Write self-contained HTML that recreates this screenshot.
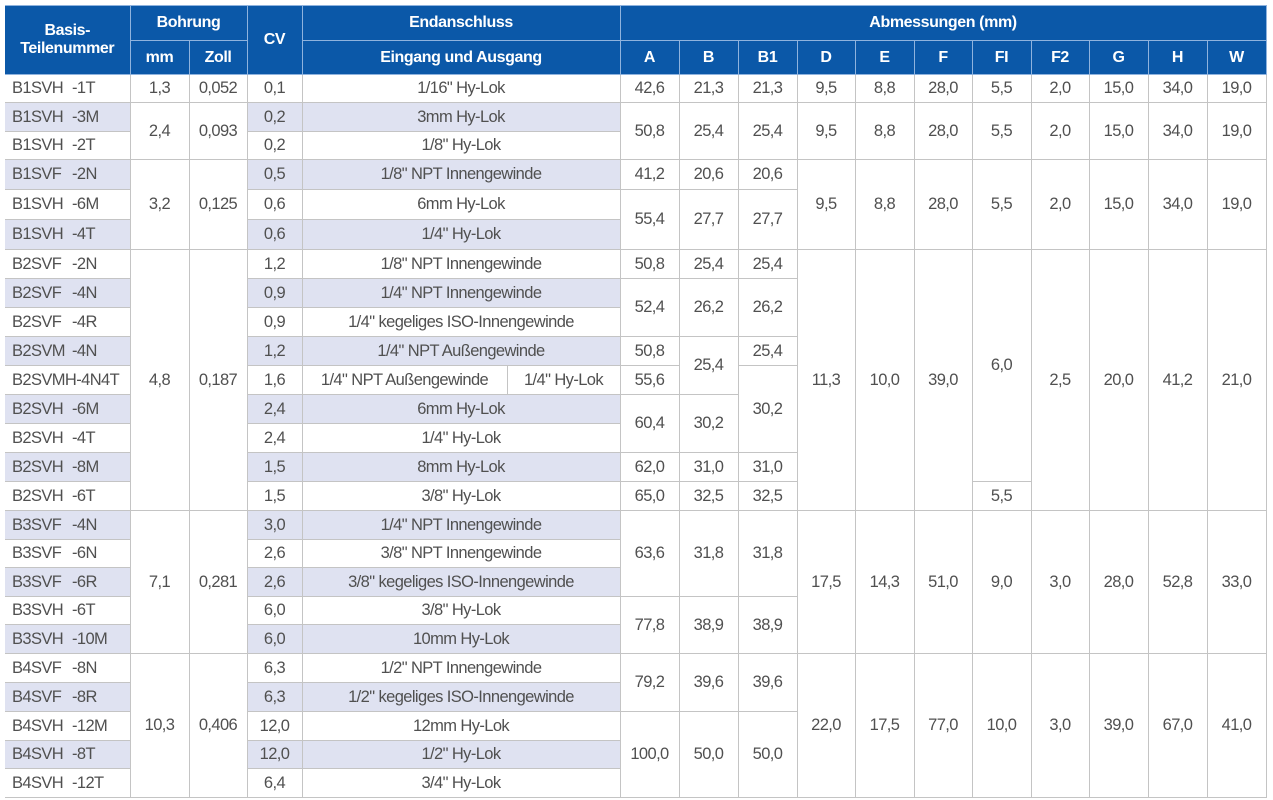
<!DOCTYPE html>
<html><head><meta charset="utf-8"><style>
html,body{margin:0;padding:0;background:#fff;width:1273px;height:800px;overflow:hidden}
table{position:absolute;left:5px;top:5px;border-collapse:collapse;table-layout:fixed;font-family:"Liberation Sans",sans-serif;}
td,th{padding:0;overflow:hidden;white-space:nowrap}
th{background:#0b58a8;color:#fff;font-weight:bold;font-size:16px;letter-spacing:-0.4px;border:1px solid #8fb3de;text-align:center}
td{font-size:16.5px;letter-spacing:-0.6px;color:#505050;text-align:center;border:1px solid #c4c4c4;}
td.sh{background:#dfe2f1}
td.pn{text-align:left;padding-left:7px;border-left:none}
.pn span{display:inline-block;width:60px}
tr.hd2 th{height:33px}
</style></head><body>
<table id="t">
<colgroup><col style="width:125px"><col style="width:59px"><col style="width:58px"><col style="width:55px"><col style="width:205px"><col style="width:113px"><col style="width:59px"><col style="width:59px"><col style="width:59px"><col style="width:58px"><col style="width:59px"><col style="width:58px"><col style="width:59px"><col style="width:58px"><col style="width:59px"><col style="width:59px"><col style="width:59px"></colgroup>
<thead>
<tr style="height:35px">
<th rowspan="2" style="border-left:none">Basis-<br>Teilenummer</th>
<th colspan="2">Bohrung</th>
<th rowspan="2">CV</th>
<th colspan="2">Endanschluss</th>
<th colspan="11">Abmessungen (mm)</th>
</tr>
<tr class="hd2">
<th>mm</th>
<th>Zoll</th>
<th colspan="2">Eingang und Ausgang</th>
<th>A</th><th>B</th><th>B1</th><th>D</th><th>E</th><th>F</th><th>FI</th><th>F2</th><th>G</th><th>H</th><th>W</th>
</tr>
</thead>
<tbody id="tb"></tbody>
</table>
<script>
const heights=[28,29,28,30,30,30,29,29,29,29,29,29,29,29,29,29,28,29,28,29,29,29,29,28,29];
const parts=[["B1SVH","-1T"],["B1SVH","-3M"],["B1SVH","-2T"],["B1SVF","-2N"],["B1SVH","-6M"],["B1SVH","-4T"],["B2SVF","-2N"],["B2SVF","-4N"],["B2SVF","-4R"],["B2SVM","-4N"],["B2SVMH-4N4T",""],["B2SVH","-6M"],["B2SVH","-4T"],["B2SVH","-8M"],["B2SVH","-6T"],["B3SVF","-4N"],["B3SVF","-6N"],["B3SVF","-6R"],["B3SVH","-6T"],["B3SVH","-10M"],["B4SVF","-8N"],["B4SVF","-8R"],["B4SVH","-12M"],["B4SVH","-8T"],["B4SVH","-12T"]];
const cvs=["0,1","0,2","0,2","0,5","0,6","0,6","1,2","0,9","0,9","1,2","1,6","2,4","2,4","1,5","1,5","3,0","2,6","2,6","6,0","6,0","6,3","6,3","12,0","12,0","6,4"];
const ends=["1/16\" Hy-Lok","3mm Hy-Lok","1/8\" Hy-Lok","1/8\" NPT Innengewinde","6mm Hy-Lok","1/4\" Hy-Lok","1/8\" NPT Innengewinde","1/4\" NPT Innengewinde","1/4\" kegeliges ISO-Innengewinde","1/4\" NPT Außengewinde",["1/4\" NPT Außengewinde","1/4\" Hy-Lok"],"6mm Hy-Lok","1/4\" Hy-Lok","8mm Hy-Lok","3/8\" Hy-Lok","1/4\" NPT Innengewinde","3/8\" NPT Innengewinde","3/8\" kegeliges ISO-Innengewinde","3/8\" Hy-Lok","10mm Hy-Lok","1/2\" NPT Innengewinde","1/2\" kegeliges ISO-Innengewinde","12mm Hy-Lok","1/2\" Hy-Lok","3/4\" Hy-Lok"];
const mmCol=[[0,1,"1,3"],[1,2,"2,4"],[3,3,"3,2"],[6,9,"4,8"],[15,5,"7,1"],[20,5,"10,3"]];
const zollCol=[[0,1,"0,052"],[1,2,"0,093"],[3,3,"0,125"],[6,9,"0,187"],[15,5,"0,281"],[20,5,"0,406"]];
const aCol=[[0,1,"42,6"],[1,2,"50,8"],[3,1,"41,2"],[4,2,"55,4"],[6,1,"50,8"],[7,2,"52,4"],[9,1,"50,8"],[10,1,"55,6"],[11,2,"60,4"],[13,1,"62,0"],[14,1,"65,0"],[15,3,"63,6"],[18,2,"77,8"],[20,2,"79,2"],[22,3,"100,0"]];
const bCol=[[0,1,"21,3"],[1,2,"25,4"],[3,1,"20,6"],[4,2,"27,7"],[6,1,"25,4"],[7,2,"26,2"],[9,2,"25,4"],[11,2,"30,2"],[13,1,"31,0"],[14,1,"32,5"],[15,3,"31,8"],[18,2,"38,9"],[20,2,"39,6"],[22,3,"50,0"]];
const b1Col=[[0,1,"21,3"],[1,2,"25,4"],[3,1,"20,6"],[4,2,"27,7"],[6,1,"25,4"],[7,2,"26,2"],[9,1,"25,4"],[10,3,"30,2"],[13,1,"31,0"],[14,1,"32,5"],[15,3,"31,8"],[18,2,"38,9"],[20,2,"39,6"],[22,3,"50,0"]];
const dCol=[[0,1,"9,5"],[1,2,"9,5"],[3,3,"9,5"],[6,9,"11,3"],[15,5,"17,5"],[20,5,"22,0"]];
const eCol=[[0,1,"8,8"],[1,2,"8,8"],[3,3,"8,8"],[6,9,"10,0"],[15,5,"14,3"],[20,5,"17,5"]];
const fCol=[[0,1,"28,0"],[1,2,"28,0"],[3,3,"28,0"],[6,9,"39,0"],[15,5,"51,0"],[20,5,"77,0"]];
const fiCol=[[0,1,"5,5"],[1,2,"5,5"],[3,3,"5,5"],[6,8,"6,0"],[14,1,"5,5"],[15,5,"9,0"],[20,5,"10,0"]];
const f2Col=[[0,1,"2,0"],[1,2,"2,0"],[3,3,"2,0"],[6,9,"2,5"],[15,5,"3,0"],[20,5,"3,0"]];
const gCol=[[0,1,"15,0"],[1,2,"15,0"],[3,3,"15,0"],[6,9,"20,0"],[15,5,"28,0"],[20,5,"39,0"]];
const hCol=[[0,1,"34,0"],[1,2,"34,0"],[3,3,"34,0"],[6,9,"41,2"],[15,5,"52,8"],[20,5,"67,0"]];
const wCol=[[0,1,"19,0"],[1,2,"19,0"],[3,3,"19,0"],[6,9,"21,0"],[15,5,"33,0"],[20,5,"41,0"]];
const tb=document.getElementById('tb');
function spanCell(tr,col,r,name){
  for(const s of col){ if(s[0]===r){
    const td=document.createElement('td');
    
    
    td.rowSpan=s[1]; td.textContent=s[2]; tr.appendChild(td);
  }}
}
for(let r=0;r<parts.length;r++){
  const tr=document.createElement('tr');
  tr.style.height=heights[r]+'px';
  
  
  const sh=(r%2===1);
  const p=document.createElement('td');
  
  
  p.className='pn'+(sh?' sh':'');
  if(parts[r][1]){p.innerHTML='<span>'+parts[r][0]+'</span>'+parts[r][1];} else p.textContent=parts[r][0];
  tr.appendChild(p);
  spanCell(tr,mmCol,r,'bore-mm-cell');
  spanCell(tr,zollCol,r,'bore-inch-cell');
  const cv=document.createElement('td');
  
  
  if(sh) cv.className='sh';
  cv.textContent=cvs[r]; tr.appendChild(cv);
  if(Array.isArray(ends[r])){
    for(const e of ends[r]){
      const td=document.createElement('td');
      
      
      if(sh) td.className='sh';
      td.textContent=e; tr.appendChild(td);
    }
  } else {
    const td=document.createElement('td');
    
    
    td.colSpan=2; if(sh) td.className='sh';
    td.textContent=ends[r]; tr.appendChild(td);
  }
  spanCell(tr,aCol,r,'dim-a-cell');
  spanCell(tr,bCol,r,'dim-b-cell');
  spanCell(tr,b1Col,r,'dim-b1-cell');
  spanCell(tr,dCol,r,'dim-d-cell');
  spanCell(tr,eCol,r,'dim-e-cell');
  spanCell(tr,fCol,r,'dim-f-cell');
  spanCell(tr,fiCol,r,'dim-fi-cell');
  spanCell(tr,f2Col,r,'dim-f2-cell');
  spanCell(tr,gCol,r,'dim-g-cell');
  spanCell(tr,hCol,r,'dim-h-cell');
  spanCell(tr,wCol,r,'dim-w-cell');
  tb.appendChild(tr);
}
</script>
</body></html>
